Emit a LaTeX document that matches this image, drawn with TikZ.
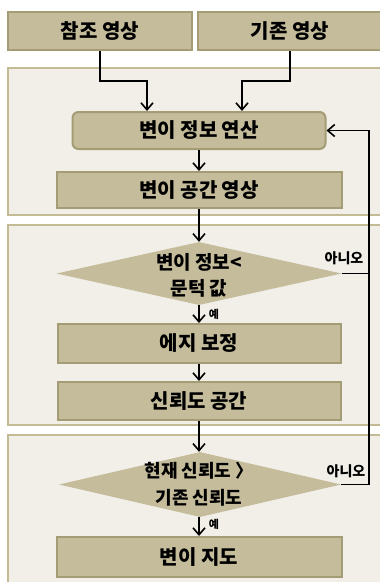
\documentclass[tikz,border=0pt]{standalone}
\usepackage{fontspec}
\setmainfont{Noto Sans CJK KR}
\usetikzlibrary{shapes.geometric,arrows.meta,calc}
\definecolor{boxfill}{HTML}{C4BC9A}
\definecolor{boxline}{HTML}{A39C74}
\definecolor{panelfill}{HTML}{F1EFE8}
\definecolor{panelline}{HTML}{C3BB94}
\tikzset{
  panel/.style={fill=panelfill,draw=panelline,line width=2.5pt},
  boxn/.style={rectangle,fill=boxfill,draw=boxline,line width=2pt,inner sep=0pt,
    font=\bfseries\fontsize{20}{22}\selectfont},
  decn/.style={diamond,fill=boxfill,draw=none,inner sep=0pt,aspect=4.5},
  dtext/.style={inner sep=0pt,align=center,font=\bfseries\fontsize{19}{26}\selectfont},
  arr/.style={line width=1.6pt,-{Straight Barb[length=7pt,width=12pt,line width=1.6pt]}},
  ln/.style={line width=1.6pt},
  lbl/.style={inner sep=0pt,font=\bfseries\fontsize{14}{16}\selectfont},
  ylbl/.style={inner sep=0pt,font=\bfseries\fontsize{11}{13}\selectfont}
}
\begin{document}
\begin{tikzpicture}[x=1pt,y=-1pt]
\useasboundingbox (0,0) rectangle (380,582);
\fill[white] (0,0) rectangle (380,582);
% panels
\draw[panel] (8,68) rectangle (392,215);
\draw[panel] (8,225) rectangle (392,425);
\draw[panel] (8,435) rectangle (392,600);
% top boxes
\node[boxn,minimum width=184pt,minimum height=38pt] (r) at (100,31) {참조 영상};
\node[boxn,minimum width=184pt,minimum height=38pt] (k) at (290,31) {기존 영상};
% main flow
\node[boxn,rounded corners=6pt,minimum width=253pt,minimum height=37pt] (b1) at (199,130.5) {변이 정보 연산};
\node[boxn,minimum width=285pt,minimum height=36pt] (b2) at (199,190) {변이 공간 영상};
\node[decn,minimum width=285pt,minimum height=63pt] (d1) at (199,273.5) {};
\node[dtext] (d1t) at (199,275) {변이 정보<\\문턱 값};
\node[boxn,minimum width=283pt,minimum height=39pt] (b3) at (199,343.5) {에지 보정};
\node[boxn,minimum width=283pt,minimum height=38pt] (b4) at (199,401) {신뢰도 공간};
\node[decn,minimum width=282pt,minimum height=65pt] (d2) at (200,484.5) {};
\node[dtext,font=\bfseries\fontsize{18}{27}\selectfont] (d2t) at (199,484) {현재 신뢰도 〉\\기존 신뢰도};
\node[boxn,minimum width=285pt,minimum height=40pt] (b5) at (199,557) {변이 지도};
% connectors
\draw[arr] (r.south) -- ++(0,30) -| ([xshift=-52pt]b1.north);
\draw[arr] (k.south) -- ++(0,30) -| ([xshift=43pt]b1.north);
\draw[arr] (b1) -- (b2);
\draw[arr] (b2.south) -- (d1.north);
\draw[arr] (d1.south) -- (b3.north);
\draw[arr] (b3) -- (b4);
\draw[arr] (b4.south) -- (d2.north -| b4.south);
\draw[arr] (d2.south -| b5.north) -- (b5.north);
\coordinate (fb) at (369,130.5);
\draw[arr] (d2.east) -| (fb) -- (b1.east);
\draw[ln] (d1.east) -- (d1.east -| fb);
% labels
\node[lbl] (n1) at (344,258) {아니오};
\node[lbl] (n2) at (346,471) {아니오};
\node[ylbl] (y1) at (214,314) {예};
\node[ylbl] (y2) at (214,524) {예};
\end{tikzpicture}
\end{document}
